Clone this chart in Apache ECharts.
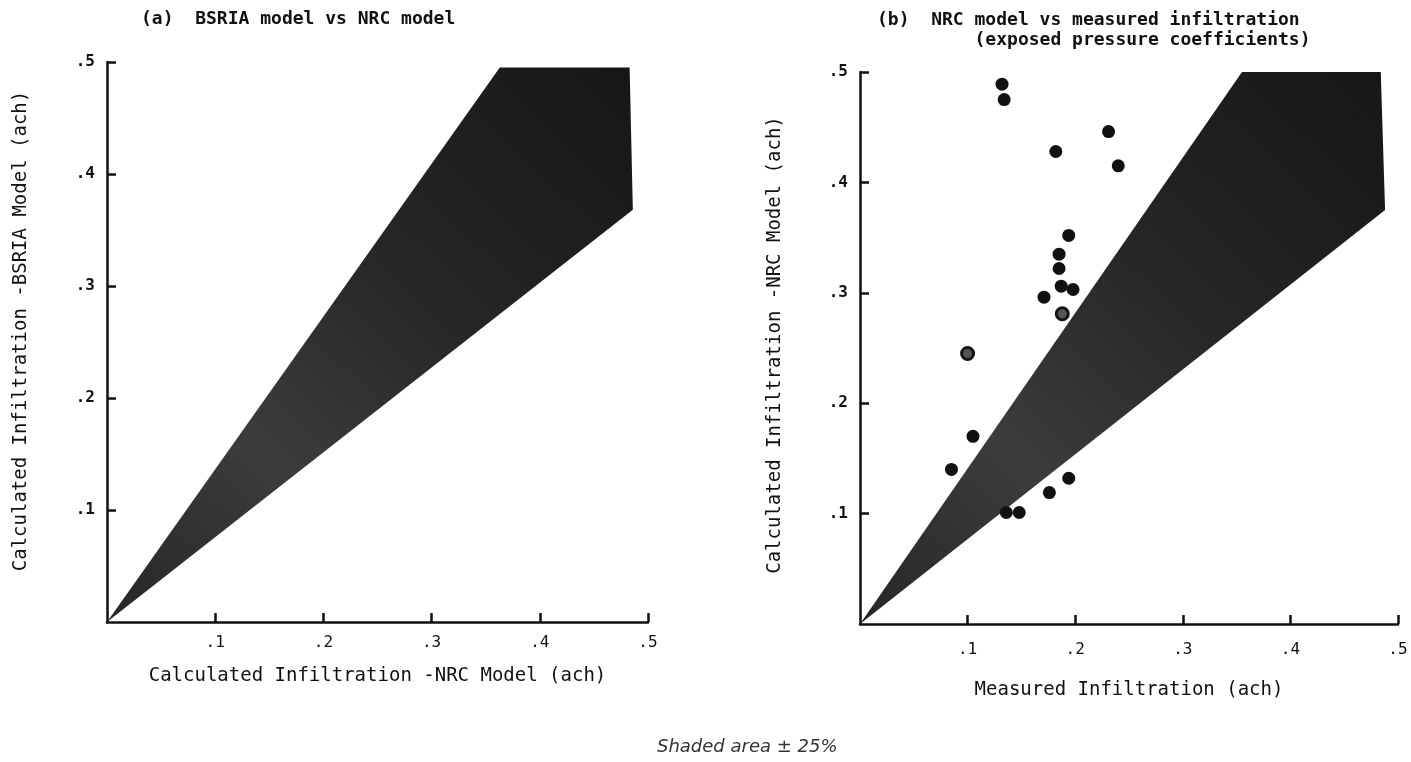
<!DOCTYPE html>
<html>
<head>
<meta charset="utf-8">
<title>BSRIA / NRC infiltration</title>
<script src="https://cdn.jsdelivr.net/npm/echarts@6/dist/echarts.min.js"></script>
<style>
  html, body { margin: 0; padding: 0; background: #fff; }
  #main { width: 1411px; height: 762px; }
</style>
</head>
<body>
<div id="main"></div>
<script>
// axis ticks (ach) and their printed labels
var tickValues = [0, 0.1, 0.2, 0.3, 0.4, 0.5];
var tickLabels = ['', '.1', '.2', '.3', '.4', '.5'];

// shaded +/-25% envelope, corner points [x, y]
var bandA = [[0, 0], [0.363, 0.495], [0.483, 0.495], [0.486, 0.368]];
var bandB = [[0, 0], [0.355, 0.5], [0.484, 0.5], [0.488, 0.375]];

// panel (b) measured vs NRC points (solid dots)
var measured = [0.132, 0.134, 0.231, 0.182, 0.240, 0.194, 0.185, 0.185, 0.187, 0.198,
                0.171, 0.105, 0.085, 0.194, 0.176, 0.148, 0.136];
var nrcModel = [0.489, 0.475, 0.446, 0.428, 0.415, 0.352, 0.335, 0.322, 0.306, 0.303,
                0.296, 0.170, 0.140, 0.132, 0.119, 0.101, 0.101];
// the two fainter (ring) dots
var measuredRing = [0.188, 0.100];
var nrcModelRing = [0.281, 0.245];

var mono = '"DejaVu Sans Mono", monospace';
var ink = '#111';

function pairs(xs, ys) {
    var out = [];
    for (var i = 0; i < xs.length; i++) {
        out.push([xs[i], ys[i]]);
    }
    return out;
}

function labelOf(v) {
    var idx = tickValues.indexOf(Math.round(v * 10) / 10);
    return idx >= 0 ? tickLabels[idx] : '';
}

function bandSeries(poly, axisIdx) {
    return {
        type: 'custom',
        xAxisIndex: axisIdx,
        yAxisIndex: axisIdx,
        data: poly,
        silent: true,
        z: 1,
        renderItem: function (params, api) {
            if (params.dataIndex !== 0) return null;
            var pts = poly.map(function (p) { return api.coord(p); });
            return {
                type: 'polygon',
                shape: { points: pts },
                style: {
                    fill: {
                        type: 'linear', x: 0, y: 1, x2: 1, y2: 0,
                        colorStops: [
                            { offset: 0, color: '#262626' },
                            { offset: 0.3, color: '#3c3c3c' },
                            { offset: 0.6, color: '#262626' },
                            { offset: 1, color: '#161616' }
                        ]
                    }
                }
            };
        }
    };
}

function xAxisOf(idx, name, nameGap, labelMargin) {
    return {
        gridIndex: idx,
        type: 'value',
        min: 0, max: 0.5, interval: 0.1,
        name: name,
        nameLocation: 'middle',
        nameGap: nameGap,
        nameTextStyle: { fontFamily: mono, fontSize: 19, color: ink },
        axisLine: { show: true, onZero: false, lineStyle: { color: ink, width: 2.5 } },
        axisTick: { show: true, inside: true, length: 9, lineStyle: { color: ink, width: 2.5 } },
        axisLabel: {
            margin: labelMargin, fontFamily: mono, fontSize: 16, color: ink,
            showMinLabel: false, formatter: labelOf
        },
        splitLine: { show: false }
    };
}

function yAxisOf(idx, name, nameGap, namePad) {
    return {
        gridIndex: idx,
        type: 'value',
        min: 0, max: 0.5, interval: 0.1,
        name: name,
        nameLocation: 'middle',
        nameGap: nameGap,
        nameTextStyle: { fontFamily: mono, fontSize: 19, color: ink, padding: namePad },
        axisLine: { show: true, onZero: false, lineStyle: { color: ink, width: 2.5 } },
        axisTick: { show: true, inside: true, length: 9, lineStyle: { color: ink, width: 2.5 } },
        axisLabel: {
            margin: 12, fontFamily: mono, fontSize: 16, fontWeight: 'bold', color: ink,
            showMinLabel: false, formatter: labelOf
        },
        splitLine: { show: false }
    };
}

var myChart = echarts.init(document.getElementById('main'));
var options = {
    backgroundColor: '#fff',
    animation: false,
    title: [
        {
            text: '(a)  BSRIA model vs NRC model',
            left: 136, top: 5,
            textStyle: { fontFamily: mono, fontSize: 18, fontWeight: 'bold', color: ink }
        },
        {
            text: '(b)  NRC model vs measured infiltration\n         (exposed pressure coefficients)',
            left: 872, top: 5,
            textStyle: { fontFamily: mono, fontSize: 18, fontWeight: 'bold', color: ink, lineHeight: 20 }
        },
        {
            text: 'Shaded area \u00b1 25%',
            left: 652, top: 733,
            textStyle: { fontFamily: '"DejaVu Sans", sans-serif', fontStyle: 'italic', fontSize: 18, fontWeight: 'normal', color: '#333' }
        }
    ],
    grid: [
        { left: 107, right: 763, top: 62, bottom: 140 },
        { left: 860, right: 13, top: 72, bottom: 138 }
    ],
    xAxis: [
        xAxisOf(0, 'Calculated Infiltration -NRC Model (ach)', 45, 13),
        xAxisOf(1, 'Measured Infiltration (ach)', 57, 18)
    ],
    yAxis: [
        yAxisOf(0, 'Calculated Infiltration -BSRIA Model (ach)', 76, [0, 0, 0, 22]),
        yAxisOf(1, 'Calculated Infiltration -NRC Model (ach)', 75, [0, 0, 0, 6])
    ],
    series: [
        bandSeries(bandA, 0),
        bandSeries(bandB, 1),
        {
            name: 'measured',
            type: 'scatter',
            xAxisIndex: 1,
            yAxisIndex: 1,
            symbol: 'circle',
            symbolSize: 13,
            itemStyle: { color: '#111', opacity: 1 },
            data: pairs(measured, nrcModel),
            z: 3
        },
        {
            name: 'measured (faint)',
            type: 'scatter',
            xAxisIndex: 1,
            yAxisIndex: 1,
            symbol: 'circle',
            symbolSize: 12,
            itemStyle: { color: '#555', borderColor: '#151515', borderWidth: 3, opacity: 1 },
            data: pairs(measuredRing, nrcModelRing),
            z: 3
        }
    ]
};
myChart.setOption(options);
</script>
</body>
</html>
